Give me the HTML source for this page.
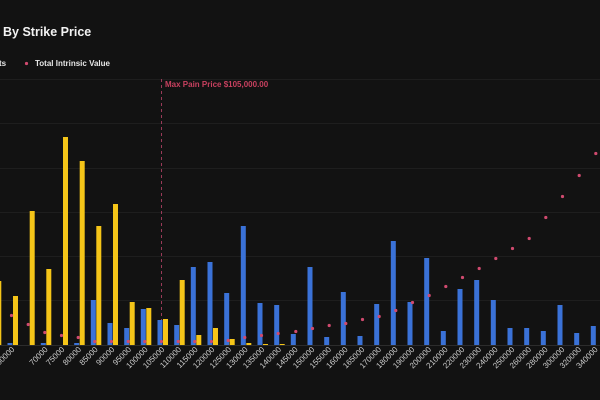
<!DOCTYPE html>
<html><head><meta charset="utf-8"><style>
html,body{margin:0;padding:0;background:#121212;}
svg{display:block;font-family:"Liberation Sans",sans-serif;}
</style></head><body>
<svg width="600" height="400" viewBox="0 0 600 400" xmlns="http://www.w3.org/2000/svg">
<rect width="600" height="400" fill="#121212"/>
<text x="3" y="36" fill="#f2f2f2" font-size="12.5" font-weight="bold">By Strike Price</text>
<text x="-1" y="66" fill="#e6e6e6" font-size="8" font-weight="bold">ts</text>
<circle cx="26.5" cy="63.5" r="1.6" fill="#d04a6f"/>
<text x="35" y="66" fill="#e6e6e6" font-size="8" font-weight="bold">Total Intrinsic Value</text>
<g stroke="#1e1e1e" stroke-width="1">
<line x1="0" y1="79.5" x2="600" y2="79.5"/>
<line x1="0" y1="123.5" x2="600" y2="123.5"/>
<line x1="0" y1="168.5" x2="600" y2="168.5"/>
<line x1="0" y1="212.5" x2="600" y2="212.5"/>
<line x1="0" y1="256.5" x2="600" y2="256.5"/>
<line x1="0" y1="300.5" x2="600" y2="300.5"/>
<line x1="0" y1="345.5" x2="600" y2="345.5" stroke="#2c2c2c"/>
</g>
<line x1="161.5" y1="79" x2="161.5" y2="345" stroke="#9a3a58" stroke-dasharray="3,3" stroke-width="1"/>
<text x="165" y="87" fill="#c8405f" font-size="8" font-weight="bold">Max Pain Price $105,000.00</text>
<g fill="#f5c518">
<rect x="-3.7" y="281" width="5" height="64"/>
<rect x="13" y="296" width="5" height="49"/>
<rect x="29.7" y="211" width="5" height="134"/>
<rect x="46.3" y="269" width="5" height="76"/>
<rect x="63" y="137" width="5" height="208"/>
<rect x="79.7" y="161" width="5" height="184"/>
<rect x="96.3" y="226" width="5" height="119"/>
<rect x="113" y="204" width="5" height="141"/>
<rect x="129.7" y="302" width="5" height="43"/>
<rect x="146.3" y="308" width="5" height="37"/>
<rect x="163" y="319" width="5" height="26"/>
<rect x="179.7" y="280" width="5" height="65"/>
<rect x="196.3" y="335" width="5" height="10"/>
<rect x="213" y="328" width="5" height="17"/>
<rect x="229.7" y="339" width="5" height="6"/>
<rect x="246.3" y="343" width="5" height="2"/>
<rect x="263" y="344" width="5" height="1"/>
<rect x="279.7" y="344" width="5" height="1"/>
</g>
<g fill="#3a72d8">
<rect x="7.5" y="343" width="5" height="2"/>
<rect x="40.8" y="343" width="5" height="2"/>
<rect x="74.2" y="343" width="5" height="2"/>
<rect x="90.8" y="300" width="5" height="45"/>
<rect x="107.5" y="323" width="5" height="22"/>
<rect x="124.2" y="328" width="5" height="17"/>
<rect x="140.8" y="309" width="5" height="36"/>
<rect x="157.5" y="320" width="5" height="25"/>
<rect x="174.2" y="325" width="5" height="20"/>
<rect x="190.8" y="267" width="5" height="78"/>
<rect x="207.5" y="262" width="5" height="83"/>
<rect x="224.2" y="293" width="5" height="52"/>
<rect x="240.8" y="226" width="5" height="119"/>
<rect x="257.5" y="303" width="5" height="42"/>
<rect x="274.2" y="305" width="5" height="40"/>
<rect x="290.8" y="334" width="5" height="11"/>
<rect x="307.5" y="267" width="5" height="78"/>
<rect x="324.2" y="337" width="5" height="8"/>
<rect x="340.8" y="292" width="5" height="53"/>
<rect x="357.5" y="336" width="5" height="9"/>
<rect x="374.2" y="304" width="5" height="41"/>
<rect x="390.8" y="241" width="5" height="104"/>
<rect x="407.5" y="302" width="5" height="43"/>
<rect x="424.2" y="258" width="5" height="87"/>
<rect x="440.8" y="331" width="5" height="14"/>
<rect x="457.5" y="289" width="5" height="56"/>
<rect x="474.2" y="280" width="5" height="65"/>
<rect x="490.8" y="300" width="5" height="45"/>
<rect x="507.5" y="328" width="5" height="17"/>
<rect x="524.2" y="328" width="5" height="17"/>
<rect x="540.8" y="331" width="5" height="14"/>
<rect x="557.5" y="305" width="5" height="40"/>
<rect x="574.2" y="333" width="5" height="12"/>
<rect x="590.8" y="326" width="5" height="19"/>
</g>
<g fill="#d04a6f">
<circle cx="11.5" cy="315.5" r="1.6"/>
<circle cx="28.2" cy="324.5" r="1.6"/>
<circle cx="44.8" cy="332.5" r="1.6"/>
<circle cx="61.5" cy="335.5" r="1.6"/>
<circle cx="78.2" cy="337.5" r="1.6"/>
<circle cx="94.8" cy="341.5" r="1.6"/>
<circle cx="111.5" cy="341.5" r="1.6"/>
<circle cx="128.2" cy="341.5" r="1.6"/>
<circle cx="144.8" cy="341.5" r="1.6"/>
<circle cx="161.5" cy="341.5" r="1.6"/>
<circle cx="178.2" cy="341.5" r="1.6"/>
<circle cx="194.8" cy="341.5" r="1.6"/>
<circle cx="211.5" cy="341.5" r="1.6"/>
<circle cx="228.2" cy="340.5" r="1.6"/>
<circle cx="244.8" cy="337.5" r="1.6"/>
<circle cx="261.5" cy="335.5" r="1.6"/>
<circle cx="278.2" cy="333.5" r="1.6"/>
<circle cx="295.8" cy="331.5" r="1.6"/>
<circle cx="312.5" cy="328.5" r="1.6"/>
<circle cx="329.2" cy="325.5" r="1.6"/>
<circle cx="345.8" cy="323.5" r="1.6"/>
<circle cx="362.5" cy="319.5" r="1.6"/>
<circle cx="379.2" cy="316.5" r="1.6"/>
<circle cx="395.8" cy="310.5" r="1.6"/>
<circle cx="412.5" cy="302.5" r="1.6"/>
<circle cx="429.2" cy="295.5" r="1.6"/>
<circle cx="445.8" cy="286.5" r="1.6"/>
<circle cx="462.5" cy="277.5" r="1.6"/>
<circle cx="479.2" cy="268.5" r="1.6"/>
<circle cx="495.8" cy="258.5" r="1.6"/>
<circle cx="512.5" cy="248.5" r="1.6"/>
<circle cx="529.2" cy="238.5" r="1.6"/>
<circle cx="545.8" cy="217.5" r="1.6"/>
<circle cx="562.5" cy="196.5" r="1.6"/>
<circle cx="579.2" cy="175.5" r="1.6"/>
<circle cx="595.8" cy="153.5" r="1.6"/>
</g>
<g fill="#cfcfcf" font-size="8" text-anchor="end">
<text transform="translate(-1.7,350) rotate(-45)">55000</text>
<text transform="translate(15,350) rotate(-45)">60000</text>
<text transform="translate(48.3,350) rotate(-45)">70000</text>
<text transform="translate(65,350) rotate(-45)">75000</text>
<text transform="translate(81.7,350) rotate(-45)">80000</text>
<text transform="translate(98.3,350) rotate(-45)">85000</text>
<text transform="translate(115,350) rotate(-45)">90000</text>
<text transform="translate(131.7,350) rotate(-45)">95000</text>
<text transform="translate(148.3,350) rotate(-45)">100000</text>
<text transform="translate(165,350) rotate(-45)">105000</text>
<text transform="translate(181.7,350) rotate(-45)">110000</text>
<text transform="translate(198.3,350) rotate(-45)">115000</text>
<text transform="translate(215,350) rotate(-45)">120000</text>
<text transform="translate(231.7,350) rotate(-45)">125000</text>
<text transform="translate(248.3,350) rotate(-45)">130000</text>
<text transform="translate(265,350) rotate(-45)">135000</text>
<text transform="translate(281.7,350) rotate(-45)">140000</text>
<text transform="translate(298.3,350) rotate(-45)">145000</text>
<text transform="translate(315,350) rotate(-45)">150000</text>
<text transform="translate(331.7,350) rotate(-45)">155000</text>
<text transform="translate(348.3,350) rotate(-45)">160000</text>
<text transform="translate(365,350) rotate(-45)">165000</text>
<text transform="translate(381.7,350) rotate(-45)">170000</text>
<text transform="translate(398.3,350) rotate(-45)">180000</text>
<text transform="translate(415,350) rotate(-45)">190000</text>
<text transform="translate(431.7,350) rotate(-45)">200000</text>
<text transform="translate(448.3,350) rotate(-45)">210000</text>
<text transform="translate(465,350) rotate(-45)">220000</text>
<text transform="translate(481.7,350) rotate(-45)">230000</text>
<text transform="translate(498.3,350) rotate(-45)">240000</text>
<text transform="translate(515,350) rotate(-45)">250000</text>
<text transform="translate(531.7,350) rotate(-45)">260000</text>
<text transform="translate(548.3,350) rotate(-45)">280000</text>
<text transform="translate(565,350) rotate(-45)">300000</text>
<text transform="translate(581.7,350) rotate(-45)">320000</text>
<text transform="translate(598.3,350) rotate(-45)">340000</text>
</g>
</svg>
</body></html>
